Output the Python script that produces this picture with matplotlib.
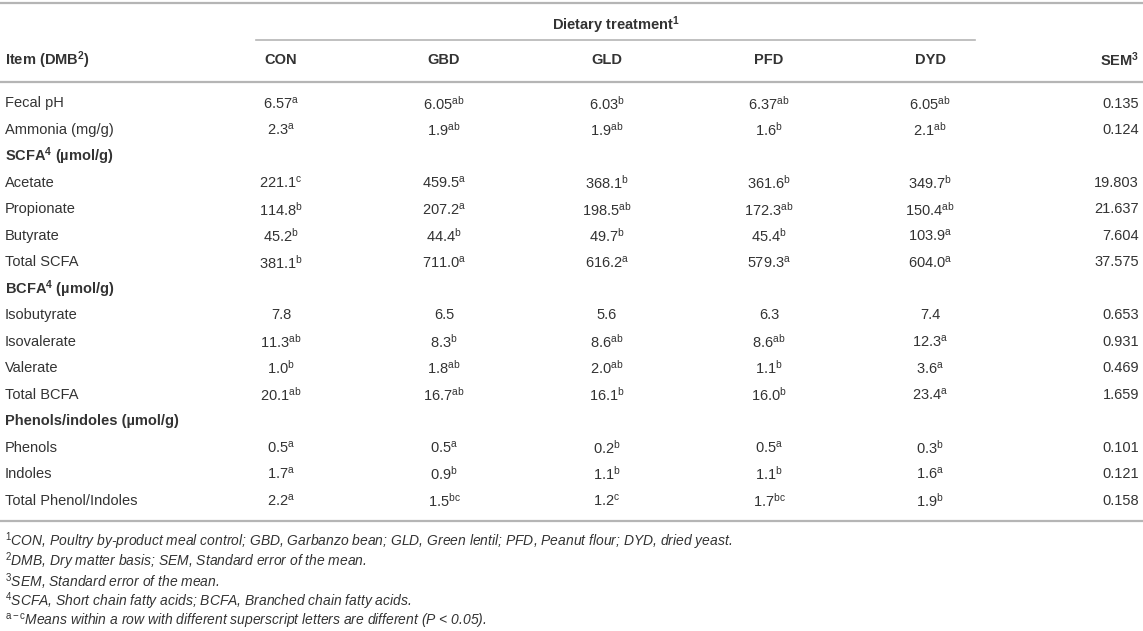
import matplotlib.pyplot as plt

plt.rcParams['font.family'] = 'Liberation Sans'
plt.rcParams['mathtext.fontset'] = 'custom'
plt.rcParams['mathtext.rm'] = 'Liberation Sans'
plt.rcParams['mathtext.it'] = 'Liberation Sans:italic'
plt.rcParams['mathtext.bf'] = 'Liberation Sans:bold'

# table content
columns = ["CON", "GBD", "GLD", "PFD", "DYD"]
items = ["Fecal pH", "Ammonia (mg/g)", r"SCFA$^{\mathbf{4}}$ (µmol/g)", "Acetate",
         "Propionate", "Butyrate", "Total SCFA", r"BCFA$^{\mathbf{4}}$ (µmol/g)",
         "Isobutyrate", "Isovalerate", "Valerate", "Total BCFA",
         "Phenols/indoles (µmol/g)", "Phenols", "Indoles", "Total Phenol/Indoles"]
section_rows = [2, 7, 12]

con = ["6.57^a", "2.3^a", "", "221.1^c", "114.8^b", "45.2^b", "381.1^b", "",
       "7.8", "11.3^ab", "1.0^b", "20.1^ab", "", "0.5^a", "1.7^a", "2.2^a"]
gbd = ["6.05^ab", "1.9^ab", "", "459.5^a", "207.2^a", "44.4^b", "711.0^a", "",
       "6.5", "8.3^b", "1.8^ab", "16.7^ab", "", "0.5^a", "0.9^b", "1.5^bc"]
gld = ["6.03^b", "1.9^ab", "", "368.1^b", "198.5^ab", "49.7^b", "616.2^a", "",
       "5.6", "8.6^ab", "2.0^ab", "16.1^b", "", "0.2^b", "1.1^b", "1.2^c"]
pfd = ["6.37^ab", "1.6^b", "", "361.6^b", "172.3^ab", "45.4^b", "579.3^a", "",
       "6.3", "8.6^ab", "1.1^b", "16.0^b", "", "0.5^a", "1.1^b", "1.7^bc"]
dyd = ["6.05^ab", "2.1^ab", "", "349.7^b", "150.4^ab", "103.9^a", "604.0^a", "",
       "7.4", "12.3^a", "3.6^a", "23.4^a", "", "0.3^b", "1.6^a", "1.9^b"]
sem = ["0.135", "0.124", "", "19.803", "21.637", "7.604", "37.575", "",
       "0.653", "0.931", "0.469", "1.659", "", "0.101", "0.121", "0.158"]

footnotes = [
    r"$^{1}$CON, Poultry by-product meal control; GBD, Garbanzo bean; GLD, Green lentil; PFD, Peanut flour; DYD, dried yeast.",
    r"$^{2}$DMB, Dry matter basis; SEM, Standard error of the mean.",
    r"$^{3}$SEM, Standard error of the mean.",
    r"$^{4}$SCFA, Short chain fatty acids; BCFA, Branched chain fatty acids.",
    r"$^{\mathrm{a-c}}$Means within a row with different superscript letters are different (P < 0.05).",
]

W, H = 1143, 631
txt = '#333333'
line_c = '#b5b5b5'
fs = 10.5


def fmt(v):
    # "6.57^a" -> number with superscript letters
    if '^' in v:
        num, sup = v.split('^')
        return num + r'$^{\mathrm{' + sup + '}}$'
    return v


fig = plt.figure(figsize=(W / 100, H / 100), dpi=100)
ax = fig.add_axes([0, 0, 1, 1])
ax.set_xlim(0, W)
ax.set_ylim(H, 0)
ax.axis('off')

col_x = [281, 444, 607, 769, 930]
sem_x = 1139
left_x = 5

# rules
ax.plot([0, W], [3, 3], color=line_c, lw=1.6)
ax.plot([256, 975], [39.5, 39.5], color=line_c, lw=1.2)
ax.plot([0, W], [82, 82], color=line_c, lw=1.6)
ax.plot([0, W], [521, 521], color=line_c, lw=1.6)

# header
ax.text(616, 25, r"Dietary treatment$^{\mathbf{1}}$", ha='center', va='center',
        fontsize=fs, fontweight='bold', color=txt)
ax.text(left_x, 60, r"Item (DMB$^{\mathbf{2}}$)", ha='left', va='center',
        fontsize=fs, fontweight='bold', color=txt)
for x, c in zip(col_x, columns):
    ax.text(x, 60, c, ha='center', va='center', fontsize=fs, fontweight='bold', color=txt)
ax.text(sem_x, 60, r"SEM$^{\mathbf{3}}$", ha='right', va='center',
        fontsize=fs, fontweight='bold', color=txt)

# body rows
row_y0, row_dy = 103.5, 26.47
for i, item in enumerate(items):
    y = row_y0 + i * row_dy
    bold = 'bold' if i in section_rows else 'normal'
    ax.text(left_x, y, item, ha='left', va='center', fontsize=fs, fontweight=bold, color=txt)
    for x, col in zip(col_x, [con, gbd, gld, pfd, dyd]):
        if col[i]:
            ax.text(x, y, fmt(col[i]), ha='center', va='center', fontsize=fs, color=txt)
    if sem[i]:
        ax.text(sem_x, y, sem[i], ha='right', va='center', fontsize=fs, color=txt)

# footnotes
for j, note in enumerate(footnotes):
    ax.text(left_x, 541 + j * 20.2, note, ha='left', va='center', fontsize=10,
            fontstyle='italic', color=txt)

fig.savefig('out.png', dpi=100, facecolor='white')
